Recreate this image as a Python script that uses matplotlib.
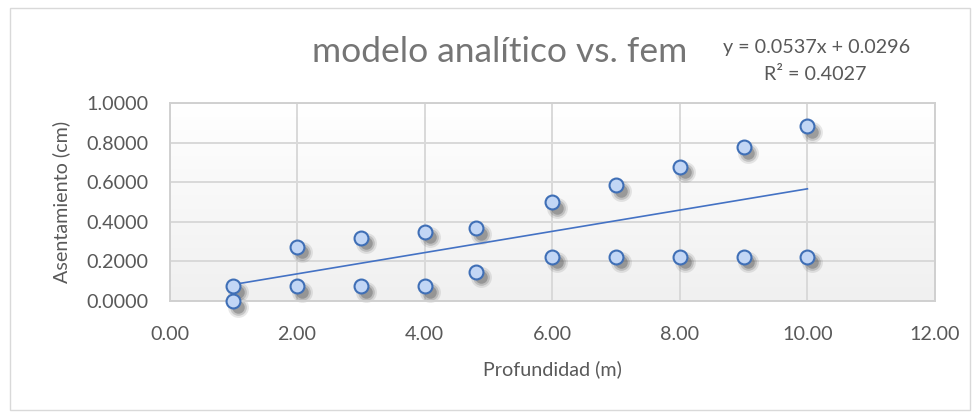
import numpy as np
import matplotlib
matplotlib.use('Agg')
import matplotlib.pyplot as plt
import matplotlib.transforms as mtransforms
from matplotlib.patches import Rectangle

# Data
depth = [1, 2, 3, 4, 4.8, 6, 7, 8, 9, 10]
settle_fem = [0.074, 0.274, 0.320, 0.350, 0.367, 0.500, 0.586, 0.678, 0.776, 0.884]
settle_analytic = [0.0, 0.074, 0.074, 0.074, 0.148, 0.224, 0.224, 0.224, 0.224, 0.224]
slope = 0.0537
intercept = 0.0296
r2 = 0.4027
x_ticks = [0, 2, 4, 6, 8, 10, 12]
y_ticks = [0.0, 0.2, 0.4, 0.6, 0.8, 1.0]

plt.rcParams['font.family'] = ['Lato', 'DejaVu Sans']
text_col = '#595959'
grid_col = '#d9d9d9'
fs = 14.2

fig = plt.figure(figsize=(9.8, 4.17), dpi=100)
fig.patch.set_facecolor('white')
fig.add_artist(Rectangle((10/980, 1 - 410/417), 960/980, 402/417, transform=fig.transFigure,
                         fill=False, edgecolor='#d9d9d9', linewidth=1))

ax = fig.add_axes([169.5/980, 1 - 301/417, (935 - 169.5)/980, (301 - 103)/417])
ax.set_xlim(0, 12)
ax.set_ylim(0, 1.0)

# plot area gradient
grad = np.linspace(1, 0, 256).reshape(-1, 1)
ax.imshow(grad, extent=[0, 1, 0, 1], transform=ax.transAxes, aspect='auto',
          cmap=matplotlib.colors.LinearSegmentedColormap.from_list('g', ['#f0f0f0', '#ffffff']),
          zorder=0)

ax.set_xticks(x_ticks)
ax.set_yticks(y_ticks)
ax.set_xticklabels([f'{v:.2f}' for v in x_ticks])
ax.set_yticklabels([f'{v:.4f}' for v in y_ticks])
ax.tick_params(length=0, labelsize=fs, colors=text_col)
ax.tick_params(axis='y', pad=15)
ax.tick_params(axis='x', pad=18)
ax.grid(True, color=grid_col, linewidth=1.4, zorder=1)
ax.set_axisbelow(True)
for s in ax.spines.values():
    s.set_color('#d0d0d0')
    s.set_linewidth(1.4)

# trend line
xt = np.array([min(depth), max(depth)])
ax.plot(xt, slope * xt + intercept, color='#4472c4', linewidth=1.2, zorder=3)

# marker shadows
for dx, dy, ms, a in [(3.5, -4, 15, 0.12), (3.5, -4, 12, 0.2), (3.5, -4, 9, 0.3)]:
    tr = mtransforms.offset_copy(ax.transData, fig=fig, x=dx, y=dy, units='points')
    for ys in (settle_fem, settle_analytic):
        ax.plot(depth, ys, 'o', ms=ms, color='#404040', alpha=a, mec='none',
                transform=tr, zorder=2, clip_on=False)

for ys in (settle_fem, settle_analytic):
    ax.plot(depth, ys, 'o', ms=10, mfc='#c2d6f5', mec='#3f6fb6', mew=1.5,
            zorder=4, clip_on=False)

ax.set_xlabel('Profundidad (m)', fontsize=fs, color=text_col)
ax.set_ylabel('Asentamiento (cm)', fontsize=fs, color=text_col)
ax.xaxis.set_label_coords((552 - 169.5) / 765.5, (301 - 360) / 198)
ax.yaxis.set_label_coords((70 - 169.5) / 765.5, 0.5)

fig.text(500/980, 1 - 62/417, 'modelo analítico vs. fem', fontsize=25.5, color='#757575',
         ha='center', va='baseline')
fig.text(817/980, 1 - 53/417, f'y = {slope}x + {intercept}', fontsize=fs, color=text_col,
         ha='center', va='baseline')
fig.text(815/980, 1 - 80/417, f'R² = {r2}', fontsize=fs, color=text_col,
         ha='center', va='baseline')

fig.savefig('out.png', dpi=100)
